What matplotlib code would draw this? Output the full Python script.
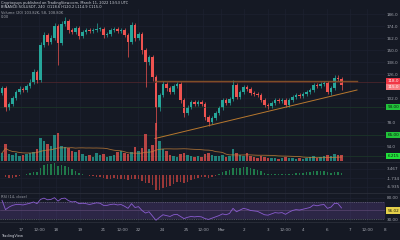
import matplotlib
matplotlib.use("Agg")
import matplotlib.pyplot as plt
import matplotlib.transforms as mtransforms
import numpy as np
import pandas as pd

W, H = 400, 240

# 4h candles, close prices (open = previous close)
first_open = 107
closes = [112, 92, 96, 102, 108, 111, 110, 114, 118, 128, 120, 155, 165, 158, 162, 174,
          157, 176, 179, 170, 168, 172, 164, 168, 170, 169, 170, 171, 171, 165, 166, 170,
          171, 169, 170, 165, 158, 175, 162, 166, 150, 138, 143, 123, 92, 105, 116, 112,
          108, 114, 116, 100, 87, 93, 98, 96, 98, 96, 83, 78, 82, 87, 92, 100, 97, 101,
          115, 103, 108, 113, 111, 107, 106, 105, 100, 95, 94, 97, 100, 99, 100, 95, 100,
          103, 105, 104, 106, 108, 110, 115, 114, 116, 117, 108, 112, 122, 121, 115]
wick_hi = [2, 2, 2, 2, 2, 3, 2, 2, 3, 3, 2, 3, 3, 2, 3, 3,
           2, 3, 4, 2, 2, 2, 2, 2, 2, 2, 2, 6, 2, 2, 2, 2,
           2, 2, 2, 2, 2, 3, 2, 2, 2, 2, 2, 2, 2, 2, 3, 2,
           2, 2, 2, 2, 2, 2, 2, 2, 2, 2, 2, 2, 2, 2, 2, 2, 2, 2,
           5, 2, 2, 2, 2, 2, 2, 2, 2, 2, 2, 2, 2, 2, 2, 2, 2,
           2, 2, 2, 2, 2, 2, 2, 2, 2, 2, 2, 2, 3, 3, 2]
wick_lo = [2, 3, 2, 2, 2, 2, 2, 2, 2, 2, 3, 2, 2, 3, 2, 2,
           22, 2, 2, 3, 2, 2, 3, 2, 2, 2, 2, 2, 2, 3, 2, 2,
           2, 2, 2, 2, 15, 2, 3, 2, 4, 25, 3, 4, 22, 3, 2, 3,
           2, 2, 2, 3, 4, 2, 2, 2, 2, 2, 3, 4, 2, 2, 2, 2, 2, 2,
           2, 2, 2, 2, 2, 2, 2, 2, 2, 2, 3, 2, 2, 2, 2, 2, 2,
           2, 2, 2, 2, 2, 2, 2, 2, 2, 2, 2, 3, 2, 2, 5]
volume = [8, 17, 7, 6, 8, 5, 6, 7, 8, 9, 12, 23, 20, 17, 15, 26, 28, 15, 14, 13, 10, 9,
          11, 7, 5, 6, 4, 8, 6, 7, 4, 5, 6, 9, 10, 8, 7, 9, 14, 10, 13, 27, 12, 16, 38, 20,
          12, 10, 6, 5, 4, 7, 8, 6, 5, 4, 5, 4, 7, 8, 6, 5, 5, 6, 4, 5, 12, 8, 6, 5, 8, 5,
          4, 3, 5, 4, 3, 3, 3, 2, 3, 4, 3, 3, 2, 3, 2, 3, 4, 5, 3, 4, 5, 6, 5, 7, 6, 6]
rsi = [74, 52, 58, 62, 64, 64, 63, 65, 67, 70, 66, 76, 79, 75, 76, 80, 72, 78, 79, 73,
       70, 71, 66, 67, 66, 64, 66, 68, 67, 62, 62, 64, 65, 63, 64, 60, 55, 66, 57, 59,
       50, 44, 47, 37, 27, 34, 40, 38, 36, 40, 41, 36, 31, 34, 36, 35, 36, 35, 31, 29,
       32, 35, 38, 42, 40, 43, 55, 47, 51, 55, 53, 50, 49, 48, 44, 40, 39, 42, 45, 44,
       45, 41, 46, 50, 52, 51, 53, 55, 57, 63, 61, 63, 64, 55, 58, 67, 66, 56]

# drawn levels (price units)
resistance = 119.5
support_start, support_end = 61.5, 110.0
level_red, level_green1, level_green2, level_vol = 118, 93, 65, 44
price_ticks = [186, 174, 162, 150, 138, 126, 102, 78, 54]

time_labels = ["17", "12:00", "18", "19", "21", "12:00", "22", "24", "25", "12:00",
               "Mar", "2", "3", "12:00", "4", "6", "7", "12:00", "8"]
time_px = [21, 39, 56, 80, 103, 122, 138, 162, 186, 203, 221, 244, 268, 285, 303, 327,
           350, 367, 385]

BG = "#151924"
UP, DN = "#26a69a", "#ef5350"
TXT = "#a3a6af"

n = len(closes)
idx = np.arange(n)
c = np.array(closes, float)
o = np.concatenate([[first_open], c[:-1]])
hi = np.maximum(o, c) + np.array(wick_hi)
lo = np.minimum(o, c) - np.array(wick_lo)
up = c >= o
cols = np.where(up, UP, DN)

fig = plt.figure(figsize=(W / 100, H / 100), dpi=100)
fig.patch.set_facecolor(BG)


def rect(x0, y0, x1, y1):
    return [x0 / W, 1 - y1 / H, (x1 - x0) / W, (y1 - y0) / H]


def px2i(x):
    return (x - 2) / 3.5


xl = (px2i(0), px2i(385))
tick_pos = [px2i(x) for x in time_px]

ax = fig.add_axes(rect(0, 9, 385, 162))
axv = fig.add_axes(rect(0, 100, 385, 162))
axm = fig.add_axes(rect(0, 162, 385, 193))
axr = fig.add_axes(rect(0, 193, 385, 222))

for a in (ax, axv, axm, axr):
    a.set_facecolor("none")
    a.set_xlim(*xl)
    for s in a.spines.values():
        s.set_visible(False)
    a.set_xticks(tick_pos)
    a.grid(True, color="#1d2130", lw=0.5)
    a.tick_params(length=0, labelsize=3, colors=TXT, pad=1.5)
    a.yaxis.tick_right()
    a.set_axisbelow(True)
ax.set_facecolor(BG)
for a in (ax, axv, axm):
    a.set_xticklabels([])
axv.grid(False)
axv.set_yticks([])
axr.set_xticklabels(time_labels)
axr.tick_params(axis="x", pad=4)

# price pane
ax.set_ylim(38, 191)
ax.set_yticks(price_ticks)
ax.set_yticklabels([f"{v:.1f}" for v in price_ticks])
ax.axhline(level_red, color="#4a242c", lw=0.6)
ax.axhline(level_green1, color="#1b3528", lw=0.6)
ax.axhline(level_green2, color="#1b3528", lw=0.6)
ax.axhline(level_vol, color="#1b3528", lw=0.6)
ax.vlines(idx, lo, hi, colors=cols, lw=0.5)
ax.bar(idx, np.maximum(np.abs(c - o), 0.6), bottom=np.minimum(o, c), width=0.7,
       color=cols, linewidth=0)
x0, x1 = px2i(155), px2i(357)
ax.plot([x0, x1], [resistance, resistance], color="#8a5528", lw=1.0, alpha=0.9)
ax.plot([x0, x1], [support_start, support_end], color="#b8782e", lw=0.7)

# volume overlay
vol = pd.Series(volume, dtype=float)
axv.set_ylim(-1, 61)
axv.bar(idx, vol, width=0.7, color=cols, alpha=0.75, linewidth=0)
axv.plot(idx, vol.rolling(20, min_periods=1).mean(), color="#c8823a", lw=0.6, alpha=0.8)

# MACD histogram
cs = pd.Series(c)
macd = cs.ewm(span=12, adjust=False).mean() - cs.ewm(span=26, adjust=False).mean()
hist = macd - macd.ewm(span=9, adjust=False).mean()
k = max(hist.max() / 12, -hist.min() / 15)
axm.set_ylim(-18 * k, 13 * k)
hcol = ["#1f7a4a" if h >= 0 else "#9a3838" for h in hist]
axm.bar(idx, hist, width=0.35, color=hcol, linewidth=0)
mt = [6 * k, -3 * k, -12 * k]
axm.set_yticks(mt)
axm.set_yticklabels([f"{v:.3f}" for v in mt])

# RSI
axr.set_ylim(23, 91)
axr.axhspan(30, 70, color="#7e57c2", alpha=0.22, lw=0)
axr.axhline(70, color="#787b86", lw=0.4, ls=(0, (2, 2)))
axr.axhline(30, color="#787b86", lw=0.4, ls=(0, (2, 2)))
axr.axhline(50, color="#7a5a8a", lw=0.4, alpha=0.7)
axr.plot(idx, rsi, color="#8a5cd0", lw=0.6)
axr.set_yticks([80, 50, 30])
axr.set_yticklabels(["80.00", "50.00", "30.00"])

# pane separators
for y in (162, 193, 222):
    fig.add_artist(plt.Line2D([0, 1], [1 - y / H] * 2, color="#2a2e39", lw=0.6))


# right axis value boxes
def box(a, val, txt, fc, tc="white"):
    tr = mtransforms.blended_transform_factory(a.transAxes, a.transData)
    a.text(1.006, val, txt, transform=tr, fontsize=3, color=tc, va="center", ha="left",
           clip_on=False, bbox=dict(boxstyle="square,pad=0.35", fc=fc, ec="none"))


box(ax, level_red + 0.8, "118.0", "#f23645")
box(ax, level_red - 5, "115.0", "#f77c80")
box(ax, level_green1, "93.00", "#22c33b", "#0b1a0f")
box(ax, level_green2, "65.00", "#22c33b", "#0b1a0f")
box(ax, level_vol, "6.215", "#22e03b", "#0b1a0f")
box(axr, 49, "56.02", "#e5d04a", "#1a1a0a")

# header / footer texts
fig.text(0.003, 1 - 3 / H, "Cryptoguys published on TradingView.com, March 11, 2022 13:53 UTC",
         fontsize=2.6, color="#d1d4dc", va="center")
fig.text(0.003, 1 - 7 / H, "BINANCE:SOLUSDT, 240  O118.6 H120.2 L114.9 C115.0",
         fontsize=2.6, color="#d1d4dc", va="center")
fig.text(0.003, 1 - 13 / H, "Volume (20) 103.82K, 58, 108.80K", fontsize=2.6,
         color=TXT, va="center")
fig.text(0.003, 1 - 16.5 / H, "0.00", fontsize=2.6, color=TXT, va="center")
fig.text(0.003, 1 - 197 / H, "RSI (14, close)", fontsize=2.6, color=TXT, va="center")
fig.text(0.003, 1 - 236.5 / H, "TradingView", fontsize=2.6, color="#d1d4dc", va="center")

fig.savefig("out.png", dpi=100, facecolor=BG)
